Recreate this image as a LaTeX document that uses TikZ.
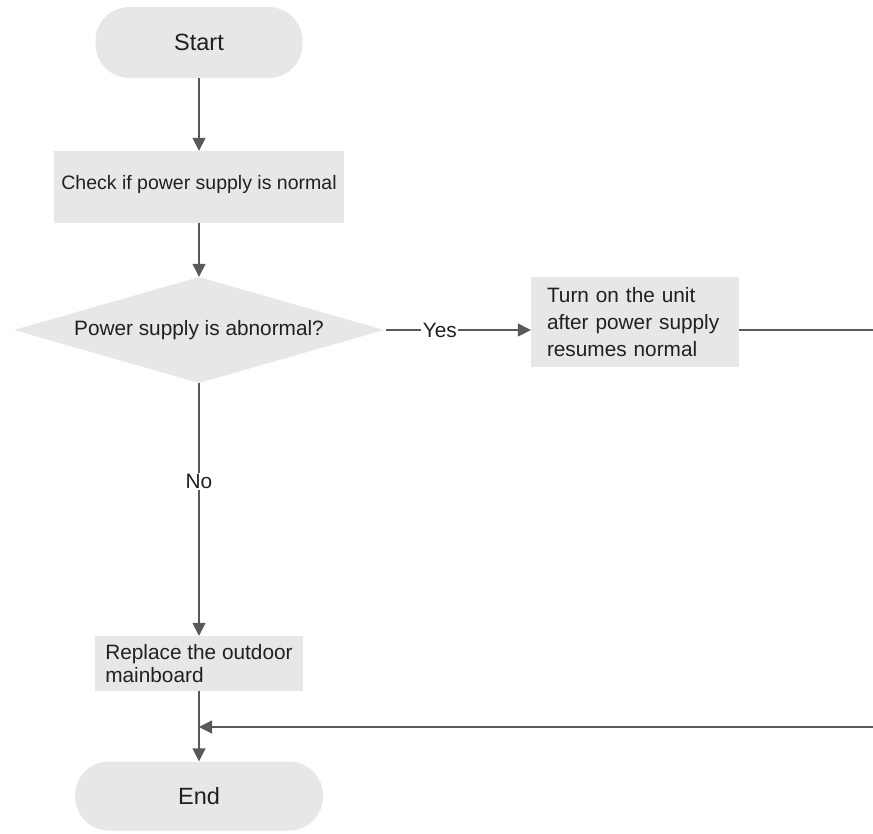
\documentclass[tikz,border=0pt]{standalone}
\usepackage{fontspec}
\setmainfont{Liberation Sans}
\usetikzlibrary{arrows.meta,shapes.geometric}
\definecolor{boxfill}{HTML}{E6E7E8}
\definecolor{linec}{HTML}{58595B}
\definecolor{txt}{HTML}{231F20}
\tikzset{
  base/.style={fill=boxfill, text=txt, font=\fontsize{20.8}{27}\selectfont},
  term/.style={base, rounded corners=34pt, font=\fontsize{23.5}{28}\selectfont},
  procbox/.style={base, rectangle, inner ysep=0pt},
  decbox/.style={base, diamond, inner sep=0pt, shape aspect=3.5, minimum width=370pt, minimum height=106pt},
  conn/.style={draw=linec, line width=1.5pt, -{Triangle[width=13pt,length=13pt]}},
  lbl/.style={fill=white, text=txt, inner sep=1.5pt, font=\fontsize{20.8}{24}\selectfont}
}
\begin{document}
\begin{tikzpicture}[x=1pt,y=-1pt]
\useasboundingbox (0,0) rectangle (873,833);
\clip (0,0) rectangle (873,833);
\node[term, minimum width=207pt, minimum height=71pt] (start) at (199,42.5) {Start};
\node[procbox, minimum width=290pt, minimum height=72pt, text height=15pt, text depth=10pt, font=\fontsize{19.5}{24}\selectfont] (check) at (199,187) {Check if power supply is normal};
\node[decbox] (dec) at (199,330) {Power supply is abnormal?};
\node[procbox, text width=176pt, inner xsep=16pt, minimum height=90pt, align=left] (turn) at (635,322) {Turn on the unit\\after power supply\\resumes normal};
\node[procbox, minimum width=208pt, minimum height=55pt, align=left, font=\fontsize{20.8}{23.5}\selectfont] (rep) at (199,663.5) {Replace the outdoor\\mainboard};
\node[term, minimum width=248pt, minimum height=69pt] (end) at (199,796) {End};
\coordinate (join) at (199,727);
\coordinate (farright) at (900,330);

\draw[conn] (start) -- (check);
\draw[conn] (check) -- (dec);
\draw[conn, shorten <=2pt] (dec.east) -- node[lbl, pos=0.38] {Yes} (dec.east -| turn.west);
\draw[conn] (dec.south) -- node[lbl, pos=0.39] {No} (rep.north);
\draw[conn] (rep.south) -- (end.north);
\draw[conn] (dec.east -| turn.east) -- (farright) |- (join);
\end{tikzpicture}
\end{document}
